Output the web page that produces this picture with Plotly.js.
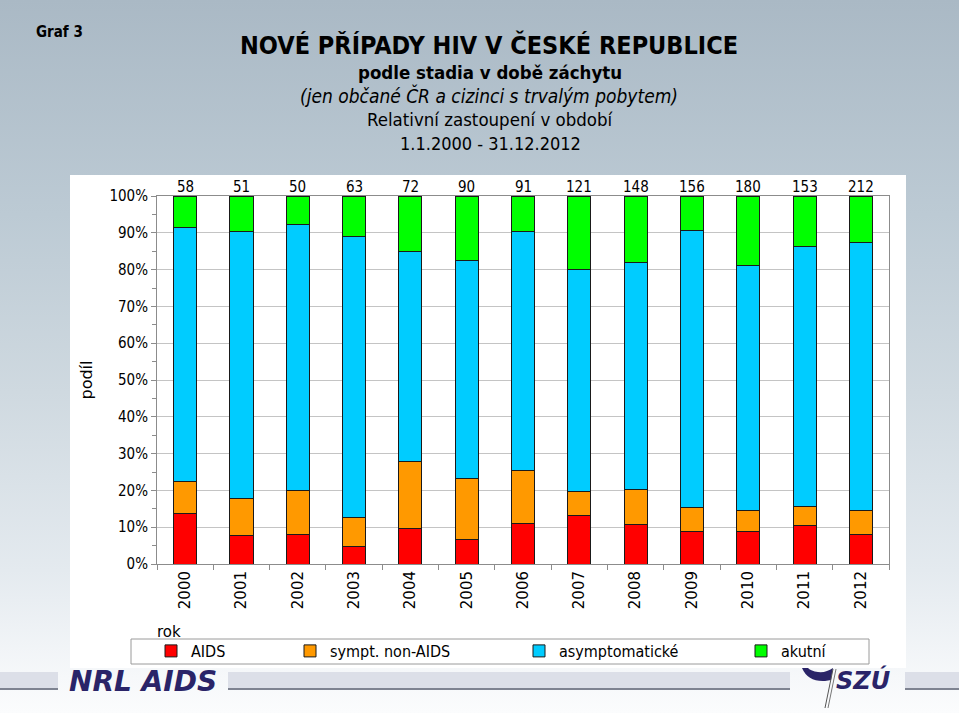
<!DOCTYPE html>
<html>
<head>
<meta charset="utf-8">
<script src="https://cdn.plot.ly/plotly-3.0.1.min.js"></script>
<style>
  html, body { margin:0; padding:0; }
  body {
    width:959px; height:713px; overflow:hidden;
    background: linear-gradient(to bottom, #aab9c5 0%, #bccad4 30%, #cfd9e0 55%, #e4eaef 80%, #f6f8fa 95%, #fbfcfd 100%);
  }
  #chart { width:959px; height:713px; }
</style>
</head>
<body>
<div id="chart"></div>
<script>
// ---- data (percent of new HIV cases by stage at detection) ----
const years = ['2000','2001','2002','2003','2004','2005','2006','2007','2008','2009','2010','2011','2012'];
const totals = [58, 51, 50, 63, 72, 90, 91, 121, 148, 156, 180, 153, 212];
const aids = [13.6, 7.8, 8.0, 4.8, 9.7, 6.7, 11.0, 13.2, 10.8, 8.9, 8.9, 10.5, 8.0];
const symptNonAids = [8.8, 9.9, 12.0, 7.9, 18.1, 16.6, 14.3, 6.6, 9.4, 6.4, 5.6, 5.2, 6.6];
const asymptomaticke = [69.0, 72.6, 72.2, 76.2, 57.0, 59.1, 65.0, 60.1, 61.6, 75.2, 66.5, 70.5, 72.7];
const akutni = [8.6, 9.7, 7.8, 11.1, 15.2, 17.6, 9.7, 20.1, 18.2, 9.5, 19.0, 13.8, 12.7];
const seriesNames = ['AIDS', 'sympt. non-AIDS', 'asymptomatické', 'akutní'];
const yTickVals = [0, 10, 20, 30, 40, 50, 60, 70, 80, 90, 100];
const yTickText = ['0%', '10%', '20%', '30%', '40%', '50%', '60%', '70%', '80%', '90%', '100%'];

// ---- layout helpers ----
const W = 959, H = 713;
const M = { l: 157, r: 70, t: 196, b: 149 };
const PW = W - M.l - M.r, PH = H - M.t - M.b;
const PX = px => (px - M.l) / PW;
const PY = py => (H - M.b - py) / PH;

const FC = '"DejaVu Sans Condensed", "DejaVu Sans", sans-serif';
const FN = '"DejaVu Sans", sans-serif';
const NAVY = '#2a2468';

const colors = ['#ff0000', '#ff9900', '#00ccff', '#00ff00'];
const seriesData = [aids, symptNonAids, asymptomaticke, akutni];
const legendIds = ['legend', 'legend2', 'legend3', 'legend4'];

const traces = seriesData.map((vals, i) => ({
  type: 'bar',
  name: seriesNames[i],
  x: years,
  y: vals,
  legend: legendIds[i],
  marker: { color: colors[i], line: { color: '#1a1a1a', width: 1 } },
  hoverinfo: 'x+y+name'
}));

const ann = [];
function txt(text, x, y, size, opts) {
  ann.push(Object.assign({
    text: text, xref: 'paper', yref: 'paper', x: PX(x), y: PY(y),
    xanchor: 'center', yanchor: 'middle', showarrow: false,
    font: { family: FC, size: size, color: '#000' }
  }, opts || {}));
}
txt('<b>Graf 3</b>', 34, 32, 15, { xanchor: 'left' });
txt('<b>NOVÉ PŘÍPADY HIV V ČESKÉ REPUBLICE</b>', 489, 45, 25);
txt('<b>podle stadia v době záchytu</b>', 490, 73, 18.5);
txt('<i>(jen občané ČR a cizinci s trvalým pobytem)</i>', 489, 96, 19);
txt('Relativní zastoupení v období', 490, 120, 18.5);
txt('1.1.2000 - 31.12.2012', 490, 143, 18);
txt('rok', 155, 632, 15, { xanchor: 'left', font: { family: FN, size: 15, color: '#000' } });
// totals above the bars (x as category index)
years.forEach((yr, i) => {
  ann.push({
    text: String(totals[i]), xref: 'x', yref: 'y', x: i, y: 100,
    xanchor: 'center', yanchor: 'bottom', yshift: -2, showarrow: false,
    font: { family: FC, size: 15, color: '#000' }
  });
});
// logos text
txt('<b><i>NRL AIDS</i></b>', 67, 681, 28, { xanchor: 'left', font: { family: FN, size: 28, color: NAVY } });
txt('<b><i>SZÚ</i></b>', 834, 680, 24, { xanchor: 'left', font: { family: FN, size: 24, color: NAVY } });

const shapes = [
  // white chart panel
  { type: 'rect', xref: 'paper', yref: 'paper', layer: 'below',
    x0: PX(70), x1: PX(906), y0: PY(668), y1: PY(175),
    fillcolor: '#ffffff', line: { width: 0 } },
  // legend box
  { type: 'rect', xref: 'paper', yref: 'paper', layer: 'below',
    x0: PX(131), x1: PX(869), y0: PY(664), y1: PY(639),
    fillcolor: '#ffffff', line: { color: '#9a9a9a', width: 1 } }
];
// footer bars
[[0, 58], [228, 790], [905, 959]].forEach(([a, b]) => {
  shapes.push({ type: 'rect', xref: 'paper', yref: 'paper', layer: 'below',
    x0: PX(a), x1: PX(b), y0: PY(689), y1: PY(672),
    fillcolor: '#dcdfe8', line: { width: 0 } });
  shapes.push({ type: 'line', xref: 'paper', yref: 'paper', layer: 'below',
    x0: PX(a), x1: PX(b), y0: PY(689), y1: PY(689),
    line: { color: '#7e8391', width: 2 } });
});
// SZÚ swoosh (lower part of a crescent, upper part hidden by the panel)
shapes.push({ type: 'path', xref: 'paper', yref: 'paper', layer: 'above',
  path: `M ${PX(802)},${PY(668)} Q ${PX(808)},${PY(682)} ${PX(825)},${PY(681)} L ${PX(831)},${PY(680)} L ${PX(833)},${PY(668)} Q ${PX(826)},${PY(673)} ${PX(818)},${PY(672)} Q ${PX(811)},${PY(671)} ${PX(808)},${PY(668)} Z`,
  fillcolor: NAVY, line: { width: 0 } });
shapes.push({ type: 'line', xref: 'paper', yref: 'paper', layer: 'above',
  x0: PX(833), x1: PX(825), y0: PY(669), y1: PY(708), line: { color: '#555', width: 1 } });
shapes.push({ type: 'line', xref: 'paper', yref: 'paper', layer: 'above',
  x0: PX(836), x1: PX(828), y0: PY(669), y1: PY(708), line: { color: '#777', width: 1 } });

const legendText = [193, 332, 561, 783];
const legCommon = i => ({
  orientation: 'h', xref: 'paper', yref: 'paper',
  x: PX(legendText[i] - 42), y: PY(651), xanchor: 'left', yanchor: 'middle',
  bgcolor: 'rgba(0,0,0,0)', borderwidth: 0, itemwidth: 30,
  font: { family: FC, size: 16, color: '#000' }
});

const layout = {
  width: W, height: H,
  margin: M,
  paper_bgcolor: 'rgba(0,0,0,0)',
  plot_bgcolor: '#ffffff',
  barmode: 'stack',
  bargap: 0.59,
  showlegend: true,
  legend: legCommon(0), legend2: legCommon(1), legend3: legCommon(2), legend4: legCommon(3),
  xaxis: {
    type: 'category',
    range: [-0.5, years.length - 0.5],
    tickangle: -90,
    tickson: 'boundaries',
    ticks: 'outside', ticklen: 5, tickcolor: '#8c8c8c',
    showline: true, linecolor: '#8c8c8c', mirror: true,
    showgrid: false, zeroline: false,
    tickfont: { family: FN, size: 15, color: '#000' },
    automargin: false
  },
  yaxis: {
    range: [0, 100],
    tickvals: yTickVals,
    ticktext: yTickText,
    ticks: 'outside', ticklen: 5, tickcolor: '#8c8c8c',
    minor: { dtick: 5, ticks: 'outside', ticklen: 4, tickcolor: '#8c8c8c', showgrid: false },
    showline: true, linecolor: '#8c8c8c', mirror: true,
    showgrid: true, gridcolor: '#c4c4c4', gridwidth: 1,
    zeroline: false,
    tickfont: { family: FC, size: 15, color: '#000' },
    title: { text: 'podíl', standoff: 12, font: { family: FN, size: 16, color: '#000' } },
    automargin: false
  },
  annotations: ann,
  shapes: shapes
};

Plotly.newPlot('chart', traces, layout, { displayModeBar: false, staticPlot: true });
</script>
</body>
</html>
